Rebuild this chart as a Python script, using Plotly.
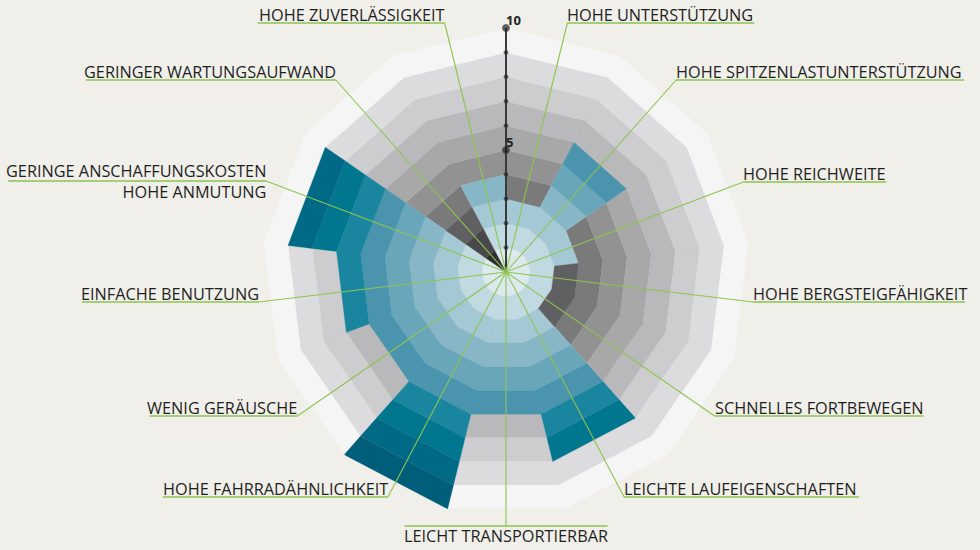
import math
import plotly.graph_objects as go

# ---------------- data ----------------
categories = [
    "HOHE UNTERSTÜTZUNG",
    "HOHE SPITZENLASTUNTERSTÜTZUNG",
    "HOHE REICHWEITE",
    "HOHE BERGSTEIGFÄHIGKEIT",
    "SCHNELLES FORTBEWEGEN",
    "LEICHTE LAUFEIGENSCHAFTEN",
    "LEICHT TRANSPORTIERBAR",
    "HOHE FAHRRADÄHNLICHKEIT",
    "WENIG GERÄUSCHE",
    "EINFACHE BENUTZUNG",
    "GERINGE ANSCHAFFUNGSKOSTEN",
    "GERINGER WARTUNGSAUFWAND",
    "HOHE ZUVERLÄSSIGKEIT",
]
extra_label = {10: "HOHE ANMUTUNG"}          # second line shown under sector 10's label
values = [3, 6, 3, 2, 2, 8, 6, 10, 6, 7, 9, 0, 4]
levels = list(range(1, 11))
tick_labels = {5: "5", 10: "10"}

# ---------------- style ----------------
W, H = 980, 550
CX, CY, R = 506, 272, 244           # pixel centre and radius of level 10
BG = "#f0efe9"
GREEN = "#8dc450"
TEAL = ["#dce9ed", "#c1d9e1", "#a4c8d4", "#87b7c7", "#69a6ba", "#4a95ad",
        "#1a859f", "#00768f", "#006a86", "#005e7a"]
GREY = ["#2f2f30", "#48484a", "#606062", "#7a7a7b", "#929293", "#a8a8a9",
        "#b9b9bb", "#cdcdcf", "#dcdcde", "#f5f5f5"]
FONT = "Open Sans"
FSIZE = 16.3

# label rows (pixel y of the underline) and underline lengths
label_row = [23, 80, 182, 302, 416, 497, 526, 497, 416, 302, 181, 80, 23]
label_len = [187, 288, 143, 212, 209, 235, 203, 225, 148, 177, 258, 250, 187]

n = len(categories)
step = 360.0 / n

fig = go.Figure()

# ---------------- cells ----------------
groups = {}
for k in range(n):
    a0 = 90 - k * step
    a1 = 90 - (k + 1) * step
    for lv in levels:
        col = TEAL[lv - 1] if lv <= values[k] else GREY[lv - 1]
        r0, r1 = lv - 1, lv
        g = groups.setdefault(col, {"r": [], "t": []})
        g["r"] += [r0, r1, r1, r0, r0, None]
        g["t"] += [a0, a0, a1, a1, a0, None]

for col, g in groups.items():
    fig.add_trace(go.Scatterpolar(
        r=g["r"], theta=g["t"], mode="lines", fill="toself",
        fillcolor=col, line=dict(color=col, width=0.3),
        hoverinfo="skip", showlegend=False, connectgaps=False))

# ---------------- radial axis with dots ----------------
fig.add_trace(go.Scatterpolar(
    r=[0] + levels, theta=[90] * (len(levels) + 1), mode="lines+markers",
    line=dict(color="#3a3a3a", width=2),
    marker=dict(color="#1e1e1e",
                size=[0] + [7 if v in tick_labels else 4 for v in levels]),
    hoverinfo="skip", showlegend=False))
fig.add_trace(go.Scatterpolar(
    r=list(tick_labels.keys()), theta=[90] * len(tick_labels), mode="text",
    text=["<b>%s</b>" % t for t in tick_labels.values()],
    textposition="top right", textfont=dict(family=FONT, size=13, color="#222222"),
    hoverinfo="skip", showlegend=False, cliponaxis=False))

fig.update_layout(
    width=W, height=H, margin=dict(l=0, r=0, t=0, b=0),
    paper_bgcolor=BG, plot_bgcolor=BG,
    polar=dict(
        domain=dict(x=[(CX - R) / W, (CX + R) / W],
                    y=[(H - CY - R) / H, (H - CY + R) / H]),
        bgcolor="rgba(0,0,0,0)",
        radialaxis=dict(range=[0, 10], visible=False),
        angularaxis=dict(rotation=0, direction="counterclockwise", visible=False,
                         showgrid=False, showline=False, ticks=""),
    ),
)

# ---------------- leader lines & labels ----------------
def px(x):
    return x / W

def py(y):
    return 1 - y / H

shapes = []
annotations = []
for k in range(n):
    th = math.radians(90 - (k + 0.5) * step)
    ay = label_row[k]
    vertical = abs(math.cos(th)) < 1e-6
    ax = CX if vertical else CX + (CY - ay) * math.cos(th) / math.sin(th)
    shapes.append(dict(type="line", xref="paper", yref="paper",
                       x0=px(CX), y0=py(CY), x1=px(ax), y1=py(ay),
                       line=dict(color=GREEN, width=1.1), layer="above"))
    L = label_len[k]
    if vertical:
        ux0, ux1 = ax - L / 2, ax + L / 2
        anchor, tx = "center", ax
        ty = ay + 10
    elif math.cos(th) > 0:
        ux0, ux1 = ax, ax + L
        anchor, tx = "left", ax - 2
        ty = ay - 8
    else:
        ux0, ux1 = ax - L, ax
        anchor, tx = "right", ax + 2
        ty = ay - 8
    shapes.append(dict(type="line", xref="paper", yref="paper",
                       x0=px(ux0), y0=py(ay), x1=px(ux1), y1=py(ay),
                       line=dict(color=GREEN, width=1.3), layer="above"))
    text = categories[k]
    if k in extra_label:
        text = text + "<br>" + extra_label[k]
        ty = ay + 0.5
    annotations.append(dict(xref="paper", yref="paper", x=px(tx), y=py(ty),
                            xanchor=anchor, yanchor="middle", showarrow=False,
                            text=text, align=anchor if anchor != "center" else "center",
                            font=dict(family=FONT, size=FSIZE, color="#1f1f1f")))

fig.update_layout(shapes=shapes, annotations=annotations)
fig.write_html("out.html",
               config={"displayModeBar": False},
               post_script="document.body.style.margin='0px';"
                           "document.body.style.background='%s';" % BG)
